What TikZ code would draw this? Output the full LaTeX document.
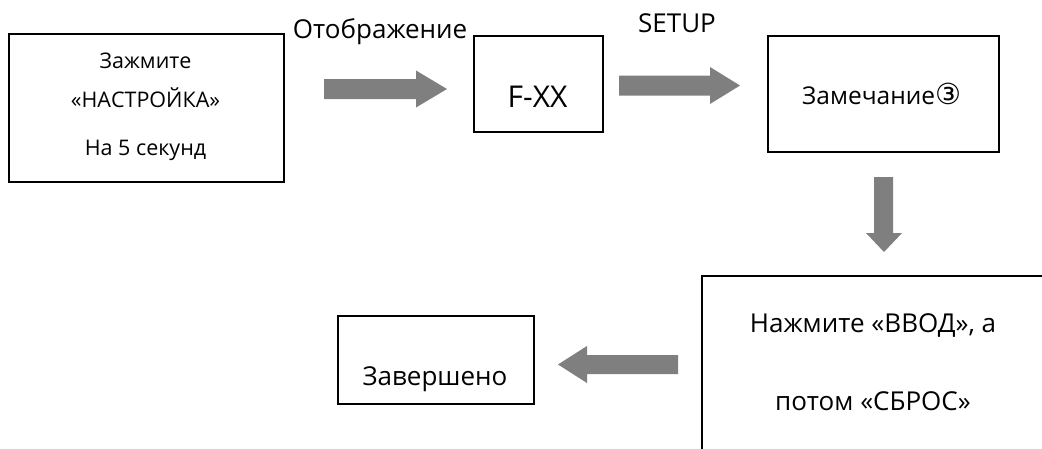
\documentclass[tikz,border=0pt]{standalone}
\usepackage{fontspec}
\setmainfont{Open Sans}
\newfontfamily\symfont{DejaVu Sans}
\definecolor{arrowgray}{RGB}{127,127,127}
\begin{document}
\begin{tikzpicture}[x=1pt,y=-1pt,
  box/.style={draw=black, line width=1.5pt, inner sep=0pt, anchor=north west},
  blockarrow/.style={fill=arrowgray, draw=none},
  txt/.style={anchor=base, inner sep=0pt, font=\fontsize{26}{30}\selectfont},
  smalltxt/.style={anchor=base, inner sep=0pt, font=\fontsize{21.5}{25}\selectfont},
  bigtxt/.style={anchor=base, inner sep=0pt, font=\fontsize{30}{34}\selectfont}]
\path[use as bounding box] (0,0) rectangle (1042,448);
\clip (0,0) rectangle (1042,448);
% boxes
\node[box, minimum width=275pt, minimum height=148pt] (b1) at (8,33) {};
\node[box, minimum width=129pt, minimum height=96pt] (fxx) at (473,35) {};
\node[box, minimum width=231pt, minimum height=116pt] (zam) at (767,35) {};
\node[box, minimum width=344pt, minimum height=190pt] (press) at (701,275) {};
\node[box, minimum width=196pt, minimum height=88pt] (done) at (337,315) {};
% texts
\node[smalltxt] (t1a) at (145.5,68) {Зажмите};
\node[smalltxt] (t1b) at (145.5,107) {«НАСТРОЙКА»};
\node[smalltxt] (t1c) at (145.5,155) {На 5 секунд};
\node[txt] (lab1) at (380,38) {Отображение};
\node[txt] (lab2) at (677,32) {SETUP};
\node[bigtxt] (tfxx) at (537.5,107) {F-XX};
\node[txt, anchor=base west, font=\fontsize{24.5}{30}\selectfont] (tzam) at (802,104) {Замечание{\symfont\fontsize{29}{30}\selectfont ③}};
\node[txt] (tp1) at (873,332) {Нажмите «ВВОД», а};
\node[txt] (tp2) at (873,410) {потом «СБРОС»};
\node[txt] (tdone) at (435,385) {Завершено};
% block arrows
\fill[blockarrow] (324,79) -- (416,79) -- (416,70.5) -- (447,89) -- (416,107.5) -- (416,99) -- (324,99) -- cycle;
\fill[blockarrow] (619,75.5) -- (710,75.5) -- (710,67) -- (740,85.5) -- (710,104) -- (710,95.5) -- (619,95.5) -- cycle;
\fill[blockarrow] (874,177) -- (893,177) -- (893,233) -- (902,233) -- (884,252) -- (866,233) -- (874,233) -- cycle;
\fill[blockarrow] (678,355) -- (587,355) -- (587,346) -- (558,364.5) -- (587,383) -- (587,374) -- (678,374) -- cycle;
\end{tikzpicture}
\end{document}
